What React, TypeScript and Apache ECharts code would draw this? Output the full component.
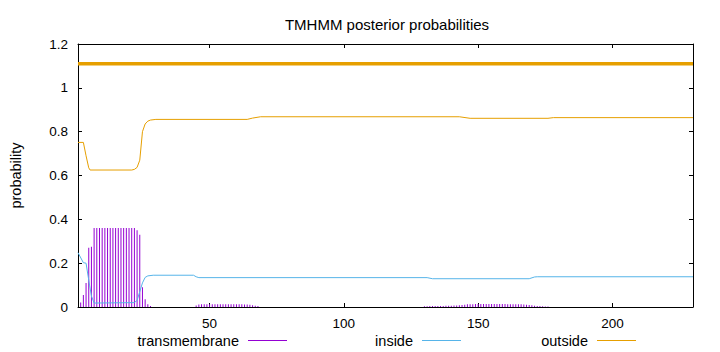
import { useEffect, useRef } from "react";
import * as echarts from "echarts";

const FONT = '"Liberation Sans", Arial, Helvetica, sans-serif';
const TITLE = "TMHMM posterior probabilities";
const Y_NAME = "probability";
const NAME_TM = "transmembrane";
const NAME_IN = "inside";
const NAME_OUT = "outside";
const X_MIN = 1;
const X_MAX = 230;
const X_TICKS = [50, 100, 150, 200];
const Y_MIN = 0;
const Y_MAX = 1.2;
const Y_STEP = 0.2;
const TOPOLOGY_LEVEL = 1.11;

// transmembrane posterior probability, impulses [position, value]
const TM_HELIX: [number, number][] = [
  [2, 0.02], [3, 0.055], [4, 0.11], [5, 0.27], [6, 0.275], [7, 0.36], [8, 0.36],
  [9, 0.36], [10, 0.36], [11, 0.36], [12, 0.36], [13, 0.36], [14, 0.36], [15, 0.36],
  [16, 0.36], [17, 0.36], [18, 0.36], [19, 0.36], [20, 0.36], [21, 0.36], [22, 0.36],
  [23, 0.35], [24, 0.33], [25, 0.09], [26, 0.035], [27, 0.012], [28, 0.004],
];
const TM_MID: [number, number][] = [
  [45, 0.007], [46, 0.011], [47, 0.012], [48, 0.013], [49, 0.013], [50, 0.013],
  [51, 0.013], [52, 0.013], [53, 0.013], [54, 0.013], [55, 0.013], [56, 0.013],
  [57, 0.013], [58, 0.013], [59, 0.013], [60, 0.012], [61, 0.012], [62, 0.012],
  [63, 0.011], [64, 0.011], [65, 0.01], [66, 0.008], [67, 0.006], [68, 0.004],
];
const TM_TAIL: [number, number][] = [
  [130, 0.003], [131, 0.003], [132, 0.004], [133, 0.004], [134, 0.004], [135, 0.005],
  [136, 0.005], [137, 0.005], [138, 0.006], [139, 0.006], [140, 0.006], [141, 0.007],
  [142, 0.007], [143, 0.008], [144, 0.009], [145, 0.01], [146, 0.012], [147, 0.013],
  [148, 0.013], [149, 0.014], [150, 0.014], [151, 0.014], [152, 0.014], [153, 0.014],
  [154, 0.014], [155, 0.014], [156, 0.014], [157, 0.014], [158, 0.014], [159, 0.014],
  [160, 0.014], [161, 0.013], [162, 0.013], [163, 0.013], [164, 0.013], [165, 0.012],
  [166, 0.012], [167, 0.011], [168, 0.01], [169, 0.009], [170, 0.008], [171, 0.006],
  [172, 0.005], [173, 0.004], [174, 0.003], [175, 0.002], [176, 0.002],
];

// inside posterior probability [position, value]
const INSIDE: [number, number][] = [
  [1, 0.248], [3, 0.202], [4, 0.2], [4.7, 0.146], [5.3, 0.1], [6, 0.05], [7, 0.018],
  [22, 0.02], [23, 0.03], [24, 0.07], [25, 0.11], [26, 0.135], [27, 0.142], [29, 0.145],
  [44, 0.145], [45, 0.138], [46, 0.134], [131, 0.134], [133, 0.129], [169, 0.129],
  [171, 0.137], [172, 0.138], [230, 0.138],
];

// outside posterior probability [position, value]
const OUTSIDE: [number, number][] = [
  [1, 0.751], [3, 0.751], [4, 0.69], [5, 0.635], [5.5, 0.625], [21, 0.625], [22, 0.628],
  [23, 0.637], [24, 0.67], [25, 0.8], [26, 0.835], [27, 0.848], [28, 0.853], [30, 0.856],
  [64, 0.856], [66, 0.862], [69, 0.868], [143, 0.868], [147, 0.861], [176, 0.861],
  [178, 0.864], [230, 0.864],
];

// predicted topology line (outside over the whole sequence)
const TOPOLOGY: [number, number][] = [
  [X_MIN, TOPOLOGY_LEVEL],
  [X_MAX, TOPOLOGY_LEVEL],
];

const C_TM = "#9400d3";
const C_IN = "#56b4e9";
const C_OUT = "#e69f00";

export default function App() {
  const ref = useRef<HTMLDivElement>(null);
  useEffect(() => {
    if (!ref.current) return;
    const chart = echarts.init(ref.current, undefined, { renderer: "svg" });
    const axisLine = { show: true, onZero: false, lineStyle: { color: "#000", width: 1 } };
    const tickStyle = { color: "#000", width: 1 };
    const labelStyle = { color: "#000", fontSize: 13.5, fontFamily: FONT };
    const legendBase = {
      orient: "horizontal" as const,
      top: 333,
      padding: 0,
      align: "right" as const,
      icon: "rect",
      itemWidth: 39,
      itemHeight: 1,
      textStyle: { color: "#000", fontSize: 14.5, fontFamily: FONT, padding: [0, 4, 0, 0] },
      selectedMode: false,
    };
    chart.setOption({
      animation: false,
      backgroundColor: "#fff",
      title: {
        text: TITLE,
        left: 382,
        top: 12,
        textAlign: "center",
        textStyle: { color: "#000", fontSize: 15, fontWeight: "normal", fontFamily: FONT },
      },
      grid: { left: 73, right: 27, top: 44, bottom: 45, containLabel: false },
      legend: [
        { ...legendBase, data: [NAME_TM], right: 433 },
        { ...legendBase, data: [NAME_IN], right: 259 },
        { ...legendBase, data: [NAME_OUT], right: 84 },
      ],
      xAxis: [
        {
          type: "value",
          position: "bottom",
          min: X_MIN,
          max: X_MAX,
          axisLine,
          axisTick: { show: true, inside: true, length: 4, customValues: X_TICKS, lineStyle: tickStyle },
          axisLabel: { ...labelStyle, customValues: X_TICKS, margin: 9 },
          splitLine: { show: false },
        },
        {
          type: "value",
          position: "top",
          min: X_MIN,
          max: X_MAX,
          axisLine,
          axisTick: { show: true, inside: true, length: 4, customValues: X_TICKS, lineStyle: tickStyle },
          axisLabel: { show: false },
          splitLine: { show: false },
        },
      ],
      yAxis: [
        {
          type: "value",
          position: "left",
          min: Y_MIN,
          max: Y_MAX,
          interval: Y_STEP,
          name: Y_NAME,
          nameLocation: "middle",
          nameRotate: 90,
          nameGap: 55,
          nameTextStyle: { color: "#000", fontSize: 14.5, fontFamily: FONT },
          axisLine,
          axisTick: { show: true, inside: true, length: 4, lineStyle: tickStyle },
          axisLabel: { ...labelStyle, margin: 10 },
          splitLine: { show: false },
        },
        {
          type: "value",
          position: "right",
          min: Y_MIN,
          max: Y_MAX,
          interval: Y_STEP,
          axisLine,
          axisTick: { show: true, inside: true, length: 4, lineStyle: tickStyle },
          axisLabel: { show: false },
          splitLine: { show: false },
        },
      ],
      series: [
        {
          name: NAME_TM,
          type: "bar",
          xAxisIndex: 0,
          yAxisIndex: 0,
          barWidth: 1,
          itemStyle: { color: C_TM },
          data: [...TM_HELIX, ...TM_MID, ...TM_TAIL],
        },
        {
          name: NAME_IN,
          type: "line",
          xAxisIndex: 0,
          yAxisIndex: 0,
          showSymbol: false,
          symbol: "none",
          lineStyle: { color: C_IN, width: 1 },
          itemStyle: { color: C_IN },
          data: INSIDE,
        },
        {
          name: NAME_OUT,
          type: "line",
          xAxisIndex: 0,
          yAxisIndex: 0,
          showSymbol: false,
          symbol: "none",
          lineStyle: { color: C_OUT, width: 1 },
          itemStyle: { color: C_OUT },
          data: OUTSIDE,
        },
        {
          name: "topology",
          type: "line",
          xAxisIndex: 0,
          yAxisIndex: 0,
          showSymbol: false,
          symbol: "none",
          lineStyle: { color: C_OUT, width: 3.5 },
          itemStyle: { color: C_OUT },
          data: TOPOLOGY,
        },
      ],
    });
    return () => chart.dispose();
  }, []);
  return (
    <div
      ref={ref}
      style={{ position: "fixed", left: 0, top: 0, width: 720, height: 352, background: "#fff" }}
    />
  );
}
